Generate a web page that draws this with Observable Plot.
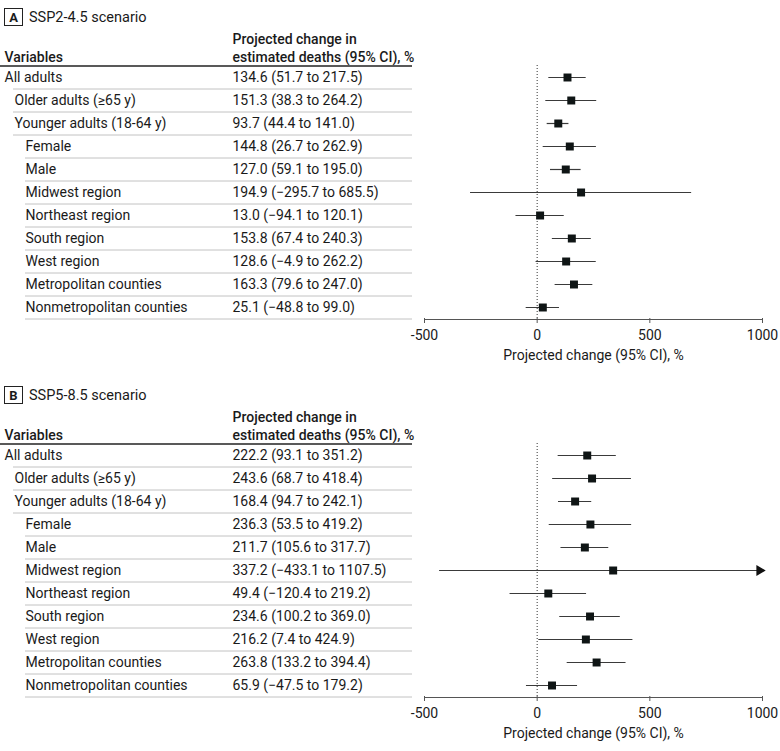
<!DOCTYPE html>
<html>
<head>
<meta charset="utf-8">
<script src="https://cdn.jsdelivr.net/npm/d3@7"></script>
<script src="https://cdn.jsdelivr.net/npm/@observablehq/plot@0.6"></script>
<style>
  body { margin: 0; background: #fff; font-family: Roboto, "Liberation Sans", sans-serif; color: #1a1a1a; }
  .panel { position: relative; width: 780px; height: 378px; overflow: hidden; }
  .panel svg { position: absolute; left: 0; top: 0; }
  .title { position: absolute; left: 4px; top: 8px; display: flex; align-items: center; font-size: 14.5px; z-index: 2; }
  .box { box-sizing: border-box; width: 19px; height: 18px; border: 1.3px solid #222; font-weight: 700; font-size: 13px; display: flex; align-items: center; justify-content: center; margin-right: 6px; }
</style>
</head>
<body>
<div id="chart"></div>
<script>
const variables = [
  "All adults",
  "Older adults (≥65 y)",
  "Younger adults (18-64 y)",
  "Female",
  "Male",
  "Midwest region",
  "Northeast region",
  "South region",
  "West region",
  "Metropolitan counties",
  "Nonmetropolitan counties"
];
const levels = [0, 1, 1, 2, 2, 2, 2, 2, 2, 2, 2];

const ssp245Est = [134.6, 151.3, 93.7, 144.8, 127.0, 194.9, 13.0, 153.8, 128.6, 163.3, 25.1];
const ssp245Lo  = [51.7, 38.3, 44.4, 26.7, 59.1, -295.7, -94.1, 67.4, -4.9, 79.6, -48.8];
const ssp245Hi  = [217.5, 264.2, 141.0, 262.9, 195.0, 685.5, 120.1, 240.3, 262.2, 247.0, 99.0];

const ssp585Est = [222.2, 243.6, 168.4, 236.3, 211.7, 337.2, 49.4, 234.6, 216.2, 263.8, 65.9];
const ssp585Lo  = [93.1, 68.7, 94.7, 53.5, 105.6, -433.1, -120.4, 100.2, 7.4, 133.2, -47.5];
const ssp585Hi  = [351.2, 418.4, 242.1, 419.2, 317.7, 1107.5, 219.2, 369.0, 424.9, 394.4, 179.2];

const xTicks = [-500, 0, 500, 1000];
const panels = [
  {letter: "A", title: "SSP2-4.5 scenario", est: ssp245Est, lo: ssp245Lo, hi: ssp245Hi},
  {letter: "B", title: "SSP5-8.5 scenario", est: ssp585Est, lo: ssp585Lo, hi: ssp585Hi}
];

const fmt = v => (v < 0 ? "\u2212" + Math.abs(v).toFixed(1) : v.toFixed(1));
const XMAX = 1000;
const ML = 424, MR = 18, W = 780;
const indent = [4, 14, 25];
const ruleStart = [13, 13, 25];
const valueX = 232;
const tableRight = 412;

function makePanel(p) {
  const rows = variables.map((name, i) => ({
    name, level: levels[i], est: p.est[i], lo: p.lo[i], hi: p.hi[i],
    label: `${fmt(p.est[i])} (${fmt(p.lo[i])} to ${fmt(p.hi[i])})`
  }));
  const insetR = W - MR - tableRight;
  const marks = [];
  // separators
  for (const lv of [0, 1, 2]) {
    const sub = rows.filter(d => d.level === lv);
    marks.push(Plot.ruleY(sub, {y: "name", dy: 11.5, insetLeft: -(ML - ruleStart[lv]), insetRight: insetR, stroke: "#c2c2c2", strokeWidth: 1}));
  }
  // header line
  marks.push(Plot.ruleY([variables[0]], {y: d => d, dy: -11.5, insetLeft: -ML, insetRight: insetR, stroke: "#222", strokeWidth: 1.5}));
  // axis line
  marks.push(Plot.ruleY([variables[variables.length - 1]], {y: d => d, dy: 12, stroke: "#555", strokeWidth: 1}));
  // zero reference
  marks.push(Plot.ruleX([0], {stroke: "#333", strokeDasharray: "1,2", strokeWidth: 1}));
  // CIs
  marks.push(Plot.ruleY(rows, {y: "name", x1: "lo", x2: d => Math.min(d.hi, XMAX), stroke: "#3a3a3a", strokeWidth: 1.2}));
  // arrows for truncated CIs
  marks.push(Plot.dot(rows.filter(d => d.hi > XMAX), {x: () => XMAX, y: "name", symbol: "triangle", rotate: 90, r: 4, fill: "#111", stroke: "none", dx: -3}));
  // point estimates
  marks.push(Plot.dot(rows, {x: "est", y: "name", symbol: "square", r: 4.5, fill: "#0f1515", stroke: "none"}));
  // table text
  for (const lv of [0, 1, 2]) {
    marks.push(Plot.text(rows.filter(d => d.level === lv), {y: "name", text: "name", frameAnchor: "left", textAnchor: "start", dx: indent[lv] - ML, fill: "#1a1a1a"}));
  }
  marks.push(Plot.text(rows, {y: "name", text: "label", frameAnchor: "left", textAnchor: "start", dx: valueX - ML, fill: "#1a1a1a"}));
  // headers
  marks.push(Plot.text(["Variables"], {text: d => d, frameAnchor: "top-left", textAnchor: "start", lineAnchor: "bottom", dx: 4 - ML, dy: -4, fontWeight: 500, fill: "#1a1a1a"}));
  marks.push(Plot.text(["Projected change in\nestimated deaths (95% CI), %"], {text: d => d, frameAnchor: "top-left", textAnchor: "start", lineAnchor: "bottom", lineHeight: 1.25, dx: valueX - ML, dy: -4, fontWeight: 500, fill: "#1a1a1a"}));
  // axis
  marks.push(Plot.axisX({ticks: xTicks, tickFormat: d => String(d), tickSize: 5, tickPadding: 7, label: "Projected change (95% CI), %", labelAnchor: "center", labelArrow: "none", labelOffset: 41, stroke: "#555", fill: "#1a1a1a"}));

  return Plot.plot({
    width: W, height: 378,
    marginLeft: ML, marginRight: MR, marginTop: 65, marginBottom: 60,
    style: {fontFamily: "Roboto, 'Liberation Sans', sans-serif", fontSize: "14px", color: "#1a1a1a", background: "transparent", overflow: "visible"},
    x: {domain: [-500, 1000], axis: null},
    y: {type: "point", domain: variables, padding: 0.5, axis: null},
    marks
  });
}

const root = document.getElementById("chart");
for (const p of panels) {
  const div = document.createElement("div");
  div.className = "panel";
  const t = document.createElement("div");
  t.className = "title";
  t.innerHTML = `<span class="box">${p.letter}</span><span>${p.title}</span>`;
  div.appendChild(makePanel(p));
  div.appendChild(t);
  root.appendChild(div);
}
</script>
</body>
</html>
